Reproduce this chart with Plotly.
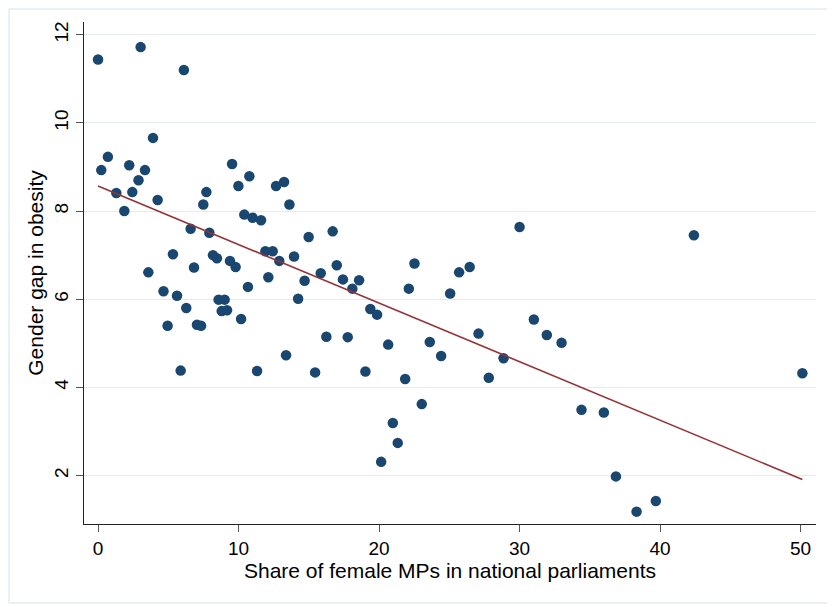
import plotly.graph_objects as go

# -------------------
# Dados
# -------------------

share_female_mps = [
0.0, 3.03, 6.11, 3.91, 0.23, 0.70, 2.22, 3.34, 2.88, 1.30,
2.44, 1.87, 4.24, 9.54, 10.77, 9.99, 7.71, 7.49, 12.67, 13.24,
13.62, 10.41, 11.00, 11.60, 6.59, 7.92, 14.99, 16.70, 11.91, 12.43,
12.90, 13.95, 5.33, 6.83, 8.18, 8.46, 9.39, 9.79, 15.85, 16.99,
3.58, 12.12, 14.70, 17.43, 18.58, 18.10, 4.66, 5.62, 10.67, 6.28,
8.58, 9.01, 8.80, 9.18, 14.24, 10.18, 4.95, 7.04, 7.33, 16.25,
17.77, 13.38, 5.88, 11.32, 15.45, 22.52, 22.12, 25.70, 26.45, 25.06,
30.00, 19.38, 19.86, 20.65, 23.61, 24.42, 27.08, 31.02, 31.94, 32.99,
28.86, 19.03, 21.86, 27.81, 23.04, 20.98, 21.33, 20.15, 34.41, 36.00,
36.86, 38.33, 42.41, 50.13, 39.70
]

gender_gap_obesity = [
11.44, 11.72, 11.20, 9.66, 8.93, 9.23, 9.04, 8.93, 8.70, 8.41,
8.43, 8.00, 8.25, 9.07, 8.79, 8.57, 8.43, 8.15, 8.57, 8.66,
8.15, 7.92, 7.85, 7.79, 7.60, 7.51, 7.41, 7.54, 7.09, 7.09,
6.87, 6.97, 7.02, 6.72, 7.00, 6.93, 6.87, 6.73, 6.59, 6.77,
6.61, 6.50, 6.42, 6.45, 6.43, 6.24, 6.18, 6.08, 6.28, 5.80,
5.99, 5.99, 5.73, 5.75, 6.01, 5.55, 5.40, 5.42, 5.40, 5.15,
5.14, 4.73, 4.38, 4.37, 4.34, 6.81, 6.24, 6.61, 6.73, 6.13,
7.64, 5.78, 5.65, 4.97, 5.03, 4.71, 5.22, 5.54, 5.19, 5.01,
4.66, 4.36, 4.19, 4.22, 3.62, 3.19, 2.74, 2.31, 3.49, 3.43,
1.98, 1.18, 7.45, 4.32, 1.42
]

# reta ajustada
fit_x = [0.0, 50.13]
fit_y = [8.57, 1.91]

x_ticks = [0, 10, 20, 30, 40, 50]
y_ticks = [2, 4, 6, 8, 10, 12]

# -------------------
# Figura
# -------------------

# a pagina tem margem de 8px no body, entao a figura fica menor
W, H = 827, 599
ML, MR, MT, MB = 76, 19, 14, 83
pw = W - ML - MR
ph = H - MT - MB

fig = go.Figure()

fig.add_trace(go.Scatter(
    x=share_female_mps,
    y=gender_gap_obesity,
    mode="markers",
    marker=dict(size=10.5, color="#1a476f"),
    hoverinfo="none"
))

fig.add_trace(go.Scatter(
    x=fit_x,
    y=fit_y,
    mode="lines",
    line=dict(width=1.6, color="#933338"),
    hoverinfo="none"
))

# borda externa clara (estilo Stata)
fig.add_shape(
    type="rect", xref="paper", yref="paper",
    x0=(1 - ML) / pw, x1=(W - 3 - ML) / pw,
    y0=-(MB - 4) / ph, y1=1 + (MT - 1) / ph,
    line=dict(color="#e4ecef", width=1.5),
    layer="below"
)

fig.update_layout(
    width=W,
    height=H,
    showlegend=False,
    margin=dict(l=ML, r=MR, t=MT, b=MB),
    plot_bgcolor="white",
    paper_bgcolor="white",
    font=dict(family="Liberation Sans, Arial, sans-serif", color="black"),
    xaxis=dict(
        range=[-1.0, 51.1],
        tickvals=x_ticks,
        ticks="outside",
        ticklen=7,
        tickcolor="#555555",
        tickfont=dict(size=19),
        showgrid=False,
        zeroline=False,
        showline=True,
        linecolor="#222222",
        linewidth=1.3,
        title=dict(text="Share of female MPs in national parliaments",
                   font=dict(size=21), standoff=2)
    ),
    yaxis=dict(
        range=[0.9, 12.29],
        tickvals=y_ticks,
        ticks="outside",
        ticklen=7,
        tickcolor="#555555",
        tickangle=-90,
        tickfont=dict(size=19),
        showgrid=True,
        gridcolor="#e3ebef",
        gridwidth=1.3,
        zeroline=False,
        showline=True,
        linecolor="#222222",
        linewidth=1.3,
        title=dict(text="Gender gap in obesity", font=dict(size=21), standoff=1)
    )
)

fig.write_html("out.html")
